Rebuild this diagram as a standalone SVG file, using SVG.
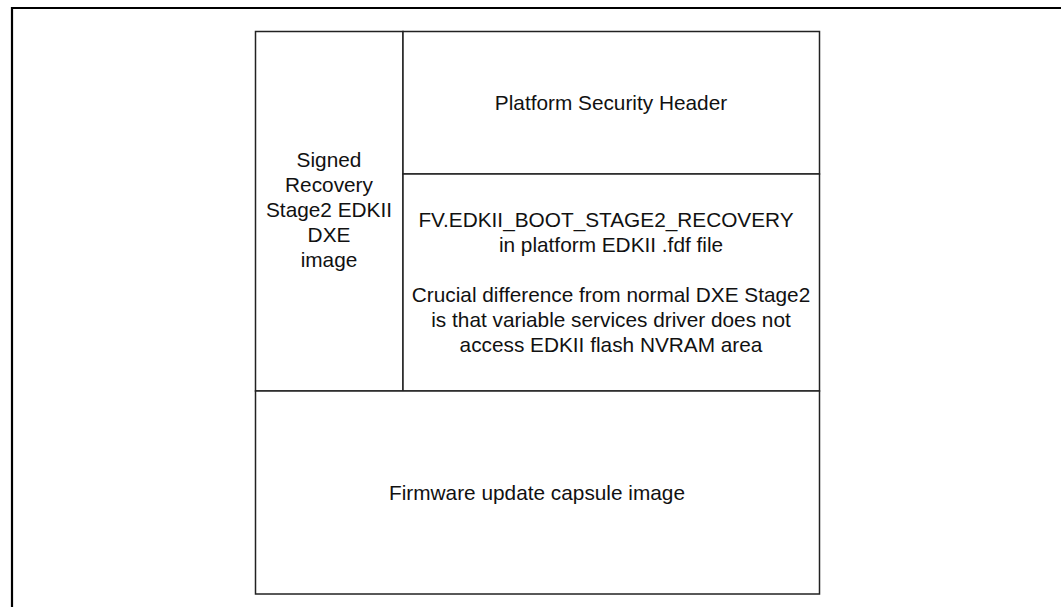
<svg xmlns="http://www.w3.org/2000/svg" width="1061" height="607" viewBox="0 0 1061 607">
<style>
.frame{fill:none;stroke:#000;stroke-width:2.2}
.box{fill:#fff;stroke:#222;stroke-width:1.5}
.t{font-family:"Liberation Sans",Arial,sans-serif;font-size:20.8px;fill:#111;text-anchor:middle}
</style>
<rect width="1061" height="607" fill="#fff"/>
<path class="frame" d="M12,610 V8 H1065"/>
<g id="signed-recovery">
<rect class="box" x="255.5" y="31.5" width="147.5" height="359.5"/>
<text class="t" x="329" y="166.5">Signed</text>
<text class="t" x="329" y="191.5">Recovery</text>
<text class="t" x="329" y="216.5">Stage2 EDKII</text>
<text class="t" x="329" y="241.5">DXE</text>
<text class="t" x="329" y="266.5">image</text>
</g>
<g id="platform-security-header">
<rect class="box" x="403" y="31.5" width="416.5" height="142.5"/>
<text class="t" x="611" y="110">Platform Security Header</text>
</g>
<g id="fv-recovery">
<rect class="box" x="403" y="174" width="416.5" height="217"/>
<text class="t" x="606" y="226.5">FV.EDKII_BOOT_STAGE2_RECOVERY</text>
<text class="t" x="611" y="251.5">in platform EDKII .fdf file</text>
<text class="t" x="611" y="301.5">Crucial difference from normal DXE Stage2</text>
<text class="t" x="611" y="326.5">is that variable services driver does not</text>
<text class="t" x="611" y="351.5">access EDKII flash NVRAM area</text>
</g>
<g id="firmware-capsule">
<rect class="box" x="255.5" y="391" width="564" height="203"/>
<text class="t" x="537" y="499.5">Firmware update capsule image</text>
</g>
<g id="connectors"/>
</svg>
